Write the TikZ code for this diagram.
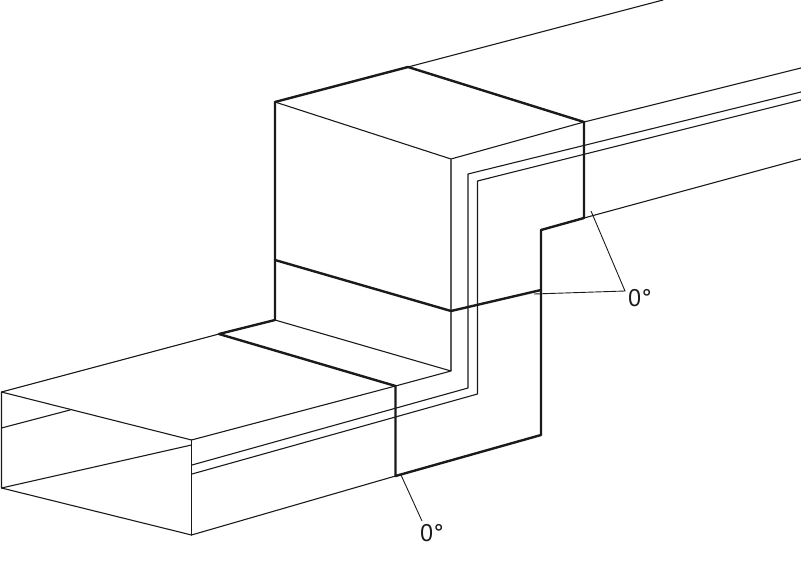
\documentclass[tikz,border=0pt]{standalone}
\usepackage{fontspec}
\setmainfont{PT Sans}
\usepackage{xcolor}
\usetikzlibrary{calc}
\definecolor{ink}{HTML}{1A1A1A}
\definecolor{edge}{HTML}{5A5A5A}
\tikzset{
  duct/.style={draw=ink, line width=1.1pt, line cap=round, line join=round},
  greyline/.style={draw=edge, line width=1.1pt},
  seam/.style={draw=ink, line width=2.4pt, line cap=round, line join=round},
  lead/.style={draw=ink, line width=0.9pt},
  lab/.style={text=ink, font=\fontsize{24}{26}\selectfont, inner sep=0pt},
}

\begin{document}
\begin{tikzpicture}[x=1pt,y=-1pt]
  \useasboundingbox (0,0) rectangle (801,575);

  % upper box
  \coordinate (A) at (275,102);
  \coordinate (B) at (408,67);
  \coordinate (C) at (584,122);
  \coordinate (D) at (451,159);
  \coordinate (E) at (275,260);
  \coordinate (F) at (451,311);
  \coordinate (G) at (275,320);
  \coordinate (H) at (451,371);
  % lower duct
  \coordinate (J) at (219,334);
  \coordinate (K) at (395.5,386);
  \coordinate (L) at (395.5,476);
  \coordinate (P) at (1.5,392);
  \coordinate (Q) at (191.5,440);
  \coordinate (R) at (1.5,488);
  \coordinate (S) at (191.5,535);
  % flange outline
  \coordinate (T) at (541,435);
  \coordinate (U) at (541,230);
  \coordinate (V) at (584,218);
  \coordinate (W) at (541,290);

  % thin edges
  \draw[duct] (B)--(663,0);
  \draw[duct] (C)--(801,68);
  \draw[duct] (V)--(801,159);
  \draw[duct] (A)--(D)--(C);
  \draw[greyline] (D)--(H);
  \draw[duct] (G)--(H)--(K);
  \draw[duct] (J)--(P)--(Q)--(K);
  \draw[duct] (P)--(R)--(S)--(L);
  \draw[duct] (Q)--(S);
  \draw[duct] (R)--(191.5,445);
  \draw[duct] (1.5,428)--(70,410);

  % double line round the bend
  \draw[duct] (801,92)--(468,174)--(468,388)--(192,465);
  \draw[duct] (801,100)--(477.5,181)--(477.5,394)--(192,474);

  % heavy joints
  \draw[seam] (B)--(A)--(G)--(J)--(K)--(L)--(T)--(U)--(V)--(C)--cycle;
  \draw[seam] (E)--(F)--(W);

  % angle labels
  \node[lab,anchor=west] (top0) at (628,298) {0°};
  \node[lab,anchor=west] (bot0) at (420,533) {0°};
  \coordinate (topk) at (625,291);
  \coordinate (botk) at (422,521);
  \draw[lead] (591,211)--(topk)--(534,294);
  \draw[lead] (401,475)--(botk);
\end{tikzpicture}
\end{document}
